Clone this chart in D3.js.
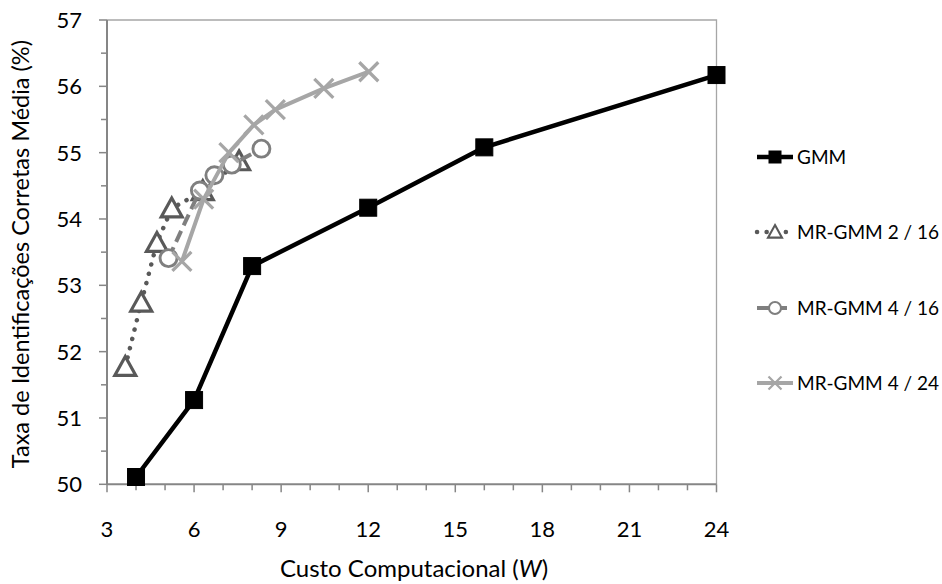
<!DOCTYPE html>
<html>
<head>
<meta charset="utf-8">
<script src="https://cdnjs.cloudflare.com/ajax/libs/d3/7.8.5/d3.min.js"></script>
<style>
  html, body { margin: 0; padding: 0; background: #fff; }
  svg { display: block; }
  text { font-family: Lato, "Open Sans", sans-serif; fill: #000; }
</style>
</head>
<body>
<svg id="chart" width="942" height="584"></svg>
<script>
// ---------- data ----------
const seriesNames = ["GMM", "MR-GMM 2 / 16", "MR-GMM 4 / 16", "MR-GMM 4 / 24"];
const gmmX = [4, 6, 8, 12, 16, 24];
const gmmY = [50.11, 51.27, 53.29, 54.17, 55.08, 56.17];
const mr216X = [3.63, 4.18, 4.72, 5.23, 6.3, 7.55];
const mr216Y = [51.77, 52.74, 53.64, 54.16, 54.42, 54.87];
const mr416X = [5.12, 6.2, 6.7, 7.3, 8.32];
const mr416Y = [53.41, 54.43, 54.66, 54.82, 55.06];
const mr424X = [5.58, 6.33, 7.2, 8.06, 8.8, 10.47, 12.02];
const mr424Y = [53.36, 54.3, 55.0, 55.42, 55.65, 55.97, 56.22];
const xTicks = [3, 6, 9, 12, 15, 18, 21, 24];
const yTicks = [50, 51, 52, 53, 54, 55, 56, 57];
const xTitle = "Custo Computacional (";
const xTitleItalic = "W";
const yTitle = "Taxa de Identificações Corretas Média (%)";

// ---------- layout ----------
const svg = d3.select("#chart");
const L = 107, R = 716.5, T = 20, B = 484.3;
const x = d3.scaleLinear().domain([3, 24]).range([L, R]);
const y = d3.scaleLinear().domain([50, 57]).range([B, T]);
const axisColor = "#868686";

// plot frame (top & right)
svg.append("path")
  .attr("d", `M${L},${T}H${R}V${B}`)
  .attr("fill", "none").attr("stroke", "#a6a6a6").attr("stroke-width", 1.3);

// minor ticks
const xMinor = d3.range(3, 24.01, 1);
const yMinor = d3.range(50, 57.01, 0.5);
svg.append("g").selectAll("line").data(xMinor).join("line")
  .attr("x1", d => x(d)).attr("x2", d => x(d))
  .attr("y1", B).attr("y2", d => (d % 3 === 0 ? B + 8 : B + 6))
  .attr("stroke", axisColor).attr("stroke-width", 1.5);
svg.append("g").selectAll("line").data(yMinor).join("line")
  .attr("y1", d => y(d)).attr("y2", d => y(d))
  .attr("x1", L).attr("x2", d => (d % 1 === 0 ? L - 8 : L - 6))
  .attr("stroke", axisColor).attr("stroke-width", 1.5);

// axes lines
svg.append("line").attr("x1", L).attr("x2", R).attr("y1", B).attr("y2", B)
  .attr("stroke", axisColor).attr("stroke-width", 2);
svg.append("line").attr("x1", L).attr("x2", L).attr("y1", T).attr("y2", B)
  .attr("stroke", axisColor).attr("stroke-width", 2);

// tick labels
svg.append("g").selectAll("text").data(xTicks).join("text")
  .attr("x", d => x(d)).attr("y", 537)
  .attr("text-anchor", "middle").attr("font-size", 22)
  .text(d => d);
svg.append("g").selectAll("text").data(yTicks).join("text")
  .attr("x", 82).attr("y", d => y(d)).attr("dy", "0.36em")
  .attr("text-anchor", "end").attr("font-size", 22)
  .text(d => d);

// axis titles
const xt = svg.append("text").attr("x", 414).attr("y", 577)
  .attr("text-anchor", "middle").attr("font-size", 24);
xt.append("tspan").text(xTitle);
xt.append("tspan").attr("font-style", "italic").text(xTitleItalic);
xt.append("tspan").text(")");
svg.append("text")
  .attr("transform", `translate(21,${(T + B) / 2 + 2}) rotate(-90)`)
  .attr("text-anchor", "middle").attr("dy", "0.36em").attr("font-size", 23.5)
  .text(yTitle);

// ---------- series ----------
const line = d3.line().x(d => x(d[0])).y(d => y(d[1]));
const zip = (a, b) => a.map((v, i) => [v, b[i]]);

const styles = [
  { color: "#000000", dash: null, cap: "butt", width: 4.5, marker: "square" },
  { color: "#595959", dash: "0.1 9.5", cap: "round", width: 4.5, marker: "triangle" },
  { color: "#7f7f7f", dash: "12 6", cap: "butt", width: 4, marker: "circle" },
  { color: "#a6a6a6", dash: null, cap: "butt", width: 4, marker: "x" }
];
const data = [zip(gmmX, gmmY), zip(mr216X, mr216Y), zip(mr416X, mr416Y), zip(mr424X, mr424Y)];

function drawMarker(g, kind, color, s) {
  if (kind === "square") {
    g.append("rect").attr("x", -s / 2).attr("y", -s / 2).attr("width", s).attr("height", s)
      .attr("fill", color).attr("stroke", color).attr("stroke-width", 1);
  } else if (kind === "triangle") {
    const h = s * 0.9, w = s;
    g.append("path").attr("d", `M0,${-h * 0.55}L${w / 2},${h * 0.45}L${-w / 2},${h * 0.45}Z`)
      .attr("fill", "#fff").attr("stroke", color).attr("stroke-width", s * 0.15).attr("stroke-linejoin", "miter");
  } else if (kind === "circle") {
    g.append("circle").attr("r", s / 2).attr("fill", "#fff")
      .attr("stroke", color).attr("stroke-width", s * 0.17);
  } else if (kind === "x") {
    const r = s / 2;
    g.append("path").attr("d", `M${-r},${-r}L${r},${r}M${-r},${r}L${r},${-r}`)
      .attr("stroke", color).attr("stroke-width", s * 0.17).attr("fill", "none");
  }
}

const markerSizes = { square: 17, triangle: 21, circle: 17, x: 19 };

data.forEach((pts, i) => {
  const st = styles[i];
  const g = svg.append("g");
  g.append("path").datum(pts).attr("d", line)
    .attr("fill", "none").attr("stroke", st.color).attr("stroke-width", st.width)
    .attr("stroke-linecap", st.cap).attr("stroke-linejoin", "round")
    .attr("stroke-dasharray", st.dash);
  pts.forEach(p => {
    const mg = g.append("g").attr("transform", `translate(${x(p[0])},${y(p[1])})`);
    drawMarker(mg, st.marker, st.color, markerSizes[st.marker]);
  });
});

// ---------- legend ----------
const legY = [157, 232, 308, 383];
const legendMarkerSizes = { square: 12, triangle: 14, circle: 12, x: 13 };
seriesNames.forEach((name, i) => {
  const st = styles[i];
  const g = svg.append("g").attr("transform", `translate(0,${legY[i]})`);
  g.append("line").attr("x1", 757).attr("x2", 793).attr("y1", 0).attr("y2", 0)
    .attr("stroke", st.color).attr("stroke-width", st.width)
    .attr("stroke-linecap", st.cap).attr("stroke-dasharray", st.dash);
  const mg = g.append("g").attr("transform", "translate(775,0)");
  drawMarker(mg, st.marker, st.color, legendMarkerSizes[st.marker]);
  g.append("text").attr("x", 797).attr("y", 0).attr("dy", "0.36em")
    .attr("font-size", 19).text(name);
});
</script>
</body>
</html>
